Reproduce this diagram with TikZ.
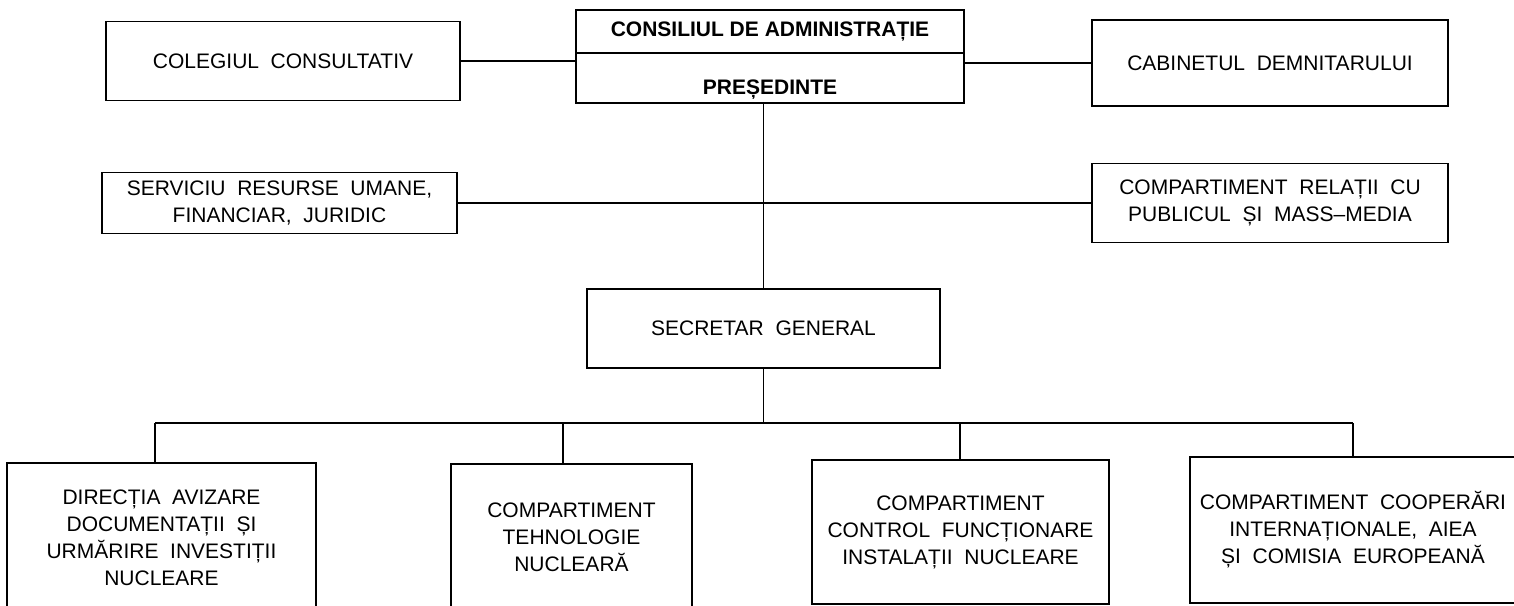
\documentclass[tikz,border=0pt]{standalone}
\usepackage{fontspec}
\setmainfont{Liberation Sans}
\begin{document}
\begin{tikzpicture}[x=1pt, y=-1pt,
    box/.style={draw, line width=1.7pt, align=center, inner sep=0pt,
      font=\fontsize{21}{27}\selectfont},
    headbox/.style={box, outer sep=0pt, minimum width=388pt,
      font=\fontsize{21}{27}\selectfont\bfseries},
    link/.style={line width=1.7pt}]
  \clip (0,0) rectangle (1514,605);
  % conducere
  \node[headbox, minimum height=43pt] (cons) at (770,31.5){CONSILIUL DE ADMINISTRAȚIE};
  \node[headbox, minimum height=50pt, text height=33pt, text depth=0pt] (pres) at (770,78){PREȘEDINTE};
  \node[box, minimum width=354pt, minimum height=79pt] (coleg) at (283,61){COLEGIUL\ \ CONSULTATIV};
  \node[box, minimum width=356pt, minimum height=86pt] (cabinet) at (1270,63){CABINETUL\ \ DEMNITARULUI};
  \draw[link](coleg.east) to (coleg.east -| pres.west);
  \draw[link](pres.east |- cabinet) to (cabinet.west);
  % compartimente pe langa presedinte
  \node[box, minimum width=355pt, minimum height=61pt] (resurse) at (279.5,203){SERVICIU\ \ RESURSE\ \ UMANE,\\FINANCIAR,\ \ JURIDIC};
  \node[box, minimum width=356pt, minimum height=79pt] (relatii) at (1270,203){COMPARTIMENT\ \ RELAȚII\ \ CU\\PUBLICUL\ \ ȘI\ \ MASS–MEDIA};
  \draw[link](resurse.east) to (relatii.west);
  % secretar general
  \node[box, minimum width=353pt, minimum height=79pt] (secretar) at (763.5,328.5){SECRETAR\ \ GENERAL};
  \draw[link](secretar.north |- pres.south) to (secretar.north);
  % directii si compartimente
  \node[box, minimum width=309pt, minimum height=150pt] (avizare) at (161.5,538){DIRECȚIA\ \ AVIZARE\\DOCUMENTAȚII\ \ ȘI\\URMĂRIRE\ \ INVESTIȚII\\NUCLEARE};
  \node[box, minimum width=241pt, minimum height=146pt] (tehnologie) at (571.5,537){COMPARTIMENT\\TEHNOLOGIE\\NUCLEARĂ};
  \node[box, minimum width=297pt, minimum height=144pt] (control) at (960.5,532){COMPARTIMENT\\CONTROL\ \ FUNCȚIONARE\\INSTALAȚII\ \ NUCLEARE};
  \node[box, minimum width=326pt, minimum height=146pt] (cooperari) at (1353,530){COMPARTIMENT\ \ COOPERĂRI\\INTERNAȚIONALE,\ \ AIEA\\ȘI\ \ COMISIA\ \ EUROPEANĂ};
  \coordinate (bus1) at (155,423);
  \coordinate (bus2) at (563,423);
  \coordinate (bus3) at (960,423);
  \coordinate (bus4) at (1353,423);
  \draw[link](secretar.south) to (secretar.south |- bus1);
  \draw[link](bus1) to (bus4);
  \draw[link](bus1) to (bus1 |- avizare.north);
  \draw[link](bus2) to (bus2 |- tehnologie.north);
  \draw[link](bus3) to (bus3 |- control.north);
  \draw[link](bus4) to (bus4 |- cooperari.north);
\end{tikzpicture}
\end{document}
